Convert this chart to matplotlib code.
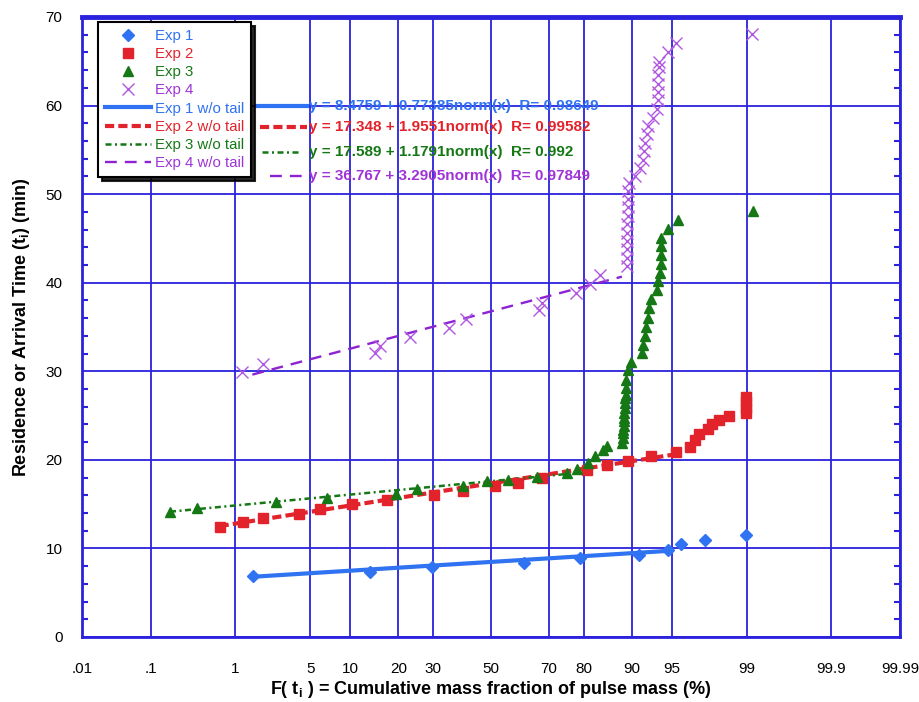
import math
import numpy as np
import matplotlib
matplotlib.use("Agg")
import matplotlib.pyplot as plt
from matplotlib.lines import Line2D

plt.rcParams['font.family'] = ['Liberation Sans', 'DejaVu Sans']

# ---------------- data (F in %, t in min) ----------------
exp1_F = [1.52, 13.6, 29.6, 61.8, 79.2, 91.1, 94.6, 95.8, 97.4, 98.98]
exp1_t = [6.9, 7.3, 7.9, 8.4, 8.9, 9.3, 9.84, 10.5, 10.9, 11.46]

exp2_F = [0.68, 1.22, 1.92, 4.07, 6.0, 10.3, 17.2, 30.2, 39.8, 51.4, 59.6, 68.0,
          80.8, 85.5, 89.4, 92.7, 95.4, 96.5, 96.8, 97.1, 97.56, 97.78, 98.08,
          98.46, 98.98, 98.98, 98.98, 98.98]
exp2_t = [12.44, 12.93, 13.42, 13.9, 14.44, 14.96, 15.45, 15.98, 16.45, 17.0,
          17.39, 17.95, 18.8, 19.37, 19.83, 20.47, 20.85, 21.45, 22.2, 22.9,
          23.5, 24.0, 24.5, 25.0, 25.3, 25.9, 26.5, 27.1]

exp3_F = [0.176, 0.38, 2.52, 6.84, 19.3, 24.97, 40.0, 48.4, 56.3, 66.3, 75.4,
          78.2, 81.2, 82.8, 84.5, 85.5,
          88.4, 88.45, 88.5, 88.55, 88.6, 88.65, 88.7, 88.75, 88.8, 88.85,
          88.9, 88.95, 89.0, 89.1, 89.4, 89.8,
          91.47, 91.7, 91.92, 92.06, 92.36, 92.5, 92.72, 93.47, 93.59, 93.77,
          93.85, 93.85, 93.85, 93.85, 94.65, 95.57, 99.13]
exp3_t = [14.1, 14.55, 15.2, 15.68, 16.17, 16.7, 17.07, 17.57, 17.68, 18.07,
          18.52, 18.97, 19.65, 20.47, 21.15, 21.6,
          21.9, 22.5, 23.05, 23.4, 23.8, 24.35, 24.75, 25.3, 25.9, 26.4,
          27.0, 27.35, 28.1, 29.06, 30.2, 31.1,
          32.07, 33.0, 34.0, 35.0, 36.0, 37.1, 38.2, 39.2, 40.2, 41.1,
          42.1, 43.1, 44.1, 45.1, 46.1, 47.1, 48.1]

exp4_F = [1.19, 1.92, 14.6, 15.7, 23.1, 35.2, 41.0, 67.0, 67.7, 78.0, 81.6, 83.9,
          89.2, 89.2, 89.2, 89.2, 89.25, 89.25, 89.3, 89.3, 89.35, 89.4, 89.6,
          90.47, 91.23, 91.7, 91.79, 91.92, 92.14, 92.36, 93.0, 93.4,
          93.5, 93.55, 93.6, 93.6, 93.65, 93.7, 94.6, 95.4, 99.12]
exp4_t = [29.93, 30.87, 32.08, 32.83, 33.9, 34.9, 35.85, 36.9, 37.7, 38.87, 39.9, 40.9,
          41.9, 42.8, 43.8, 44.7, 45.6, 46.6, 47.5, 48.5, 49.4, 50.4, 51.3,
          52.06, 53.0, 53.9, 54.9, 55.8, 56.8, 57.7, 58.6, 59.6,
          60.6, 61.5, 62.4, 63.4, 64.3, 64.9, 66.0, 67.1, 68.07]

# fits without tail: y = a + b*norm(x)
fit_a = [8.4759, 17.348, 17.589, 36.767]
fit_b = [0.77385, 1.9551, 1.1791, 3.2905]
fit_R = ['0.98649', '0.99582', '0.992', '0.97849']
fit_start = [1.6, 0.68, 0.176, 1.5]
fit_end = [94.6, 95.4, 78.2, 88.3]

series_names = ['Exp 1', 'Exp 2', 'Exp 3', 'Exp 4']
fit_names = ['Exp 1 w/o tail', 'Exp 2 w/o tail', 'Exp 3 w/o tail', 'Exp 4 w/o tail']

x_ticks = [0.01, 0.1, 1, 5, 10, 20, 30, 50, 70, 80, 90, 95, 99, 99.9, 99.99]
x_ticklabels = ['.01', '.1', '1', '5', '10', '20', '30', '50', '70', '80', '90',
                '95', '99', '99.9', '99.99']
y_ticks = [0, 10, 20, 30, 40, 50, 60, 70]

# ---------------- probability scale ----------------
_a = [-3.969683028665376e+01, 2.209460984245205e+02, -2.759285104469687e+02,
      1.383577518672690e+02, -3.066479806614716e+01, 2.506628277459239e+00]
_b = [-5.447609879822406e+01, 1.615858368580409e+02, -1.556989798598866e+02,
      6.680131188771972e+01, -1.328068155288572e+01]
_c = [-7.784894002430293e-03, -3.223964580411365e-01, -2.400758277161838e+00,
      -2.549671010114524e+00, 4.374664141464968e+00, 2.938163982698783e+00]
_d = [7.784695709041462e-03, 3.224671290700398e-01, 2.445134137142996e+00,
      3.754408661907416e+00]


def _ppf(p):
    p = np.clip(np.asarray(p, dtype=float), 1e-12, 1 - 1e-12)
    out = np.empty_like(p)
    plow = 0.02425
    lo = p < plow
    hi = p > 1 - plow
    mid = ~(lo | hi)
    q = np.sqrt(-2 * np.log(p[lo]))
    out[lo] = (((((_c[0]*q+_c[1])*q+_c[2])*q+_c[3])*q+_c[4])*q+_c[5]) / \
        ((((_d[0]*q+_d[1])*q+_d[2])*q+_d[3])*q+1)
    q = np.sqrt(-2 * np.log(1 - p[hi]))
    out[hi] = -(((((_c[0]*q+_c[1])*q+_c[2])*q+_c[3])*q+_c[4])*q+_c[5]) / \
        ((((_d[0]*q+_d[1])*q+_d[2])*q+_d[3])*q+1)
    q = p[mid] - 0.5
    r = q * q
    out[mid] = (((((_a[0]*r+_a[1])*r+_a[2])*r+_a[3])*r+_a[4])*r+_a[5])*q / \
        (((((_b[0]*r+_b[1])*r+_b[2])*r+_b[3])*r+_b[4])*r+1)
    return out


_erf = np.vectorize(math.erf)


def fwd(pct):
    return _ppf(np.asarray(pct, dtype=float) / 100.0)


def inv(z):
    z = np.asarray(z, dtype=float)
    return 100.0 * 0.5 * (1 + _erf(z / math.sqrt(2)))


# ---------------- styles ----------------
c_blue = '#2f72f2'
c_red = '#e2232b'
c_green = '#157815'
c_purple_pt = '#b257e2'
c_purple = '#8c22d2'
c_purple_txt = '#9f33d8'
grid_c = '#2a22dc'

fig = plt.figure(figsize=(9.19, 7.02), dpi=100)
ax = fig.add_axes([82/919, 1-637/702, 818/919, 620/702])
ax.set_xscale('function', functions=(fwd, inv))
ax.set_xlim(0.01, 99.99)
ax.set_ylim(0, 70)

# markers
h1, = ax.plot(exp1_F, exp1_t, ls='none', marker='D', ms=6, color=c_blue, zorder=4)
h2, = ax.plot(exp2_F, exp2_t, ls='none', marker='s', ms=6.8, color=c_red, zorder=4)
h3, = ax.plot(exp3_F, exp3_t, ls='none', marker='^', ms=7, color=c_green, zorder=4)
h4, = ax.plot(exp4_F, exp4_t, ls='none', marker='x', ms=9, mew=1.0, color=c_purple_pt, zorder=4)

fit_styles = [
    dict(color=c_blue, lw=3.0, ls='-'),
    dict(color=c_red, lw=3.0, dashes=(2.2, 1.0)),
    dict(color=c_green, lw=1.8, dashes=(2.4, 1.4, 0.8, 1.4)),
    dict(color=c_purple, lw=1.7, dashes=(5.0, 3.4)),
]
fit_handles = []
for a, b, s, e, st in zip(fit_a, fit_b, fit_start, fit_end, fit_styles):
    xs = np.array([s, e])
    ys = a + b * fwd(xs)
    h, = ax.plot(xs, ys, zorder=3, **st)
    fit_handles.append(h)

# axes styling
ax.set_xticks(x_ticks)
ax.set_xticklabels(x_ticklabels)
ax.xaxis.set_minor_locator(matplotlib.ticker.NullLocator())
ax.set_yticks(y_ticks)
ax.set_yticks(np.arange(0, 71, 2), minor=True)
ax.grid(True, which='major', color=grid_c, lw=1.3)
ax.set_axisbelow(True)
ax.tick_params(axis='x', which='major', length=0, pad=18, labelsize=11)
ax.tick_params(axis='y', which='major', length=0, pad=14, labelsize=11)
ax.tick_params(axis='y', which='minor', direction='in', length=4, width=1.5,
               color=grid_c, left=True, right=True)
for side in ['left', 'right', 'bottom']:
    ax.spines[side].set_color(grid_c)
    ax.spines[side].set_linewidth(2)
ax.spines['top'].set_color(grid_c)
ax.spines['top'].set_linewidth(3.5)

ax.set_xlabel(r'F( t$_\mathregular{i}$ ) = Cumulative mass fraction of pulse mass (%)',
              fontsize=13, fontweight='bold', labelpad=2)
ax.set_ylabel(r'Residence or Arrival Time (t$_\mathregular{i}$) (min)',
              fontsize=13, fontweight='bold', labelpad=10)

# legend
handles = [h1, h2, h3, h4] + fit_handles
labels = series_names + fit_names
leg = ax.legend(handles, labels, loc='upper left', bbox_to_anchor=(16/818, 615/620),
                borderaxespad=0, fontsize=10.8, handlelength=3.1, handletextpad=0.25,
                labelspacing=0.28, borderpad=0.45, fancybox=False, framealpha=1,
                edgecolor='black', numpoints=1,
                labelcolor=[c_blue, c_red, c_green, c_purple_txt,
                            c_blue, c_red, c_green, c_purple_txt],
                shadow={'ox': 3, 'oy': -3, 'color': 'black', 'alpha': 0.85})
leg.get_frame().set_linewidth(1.5)
leg.set_zorder(10)

# equation labels
eq_y = [0.8569, 0.8221, 0.7827, 0.7440]
eq_x0 = [0.2136, 0.2176, 0.2200, 0.2298]
eq_x1 = [0.2747, 0.2747, 0.2641, 0.2689]
eq_colors = [c_blue, c_red, c_green, c_purple_txt]
for a, b, R, y, x0, x1, st, col in zip(fit_a, fit_b, fit_R, eq_y, eq_x0, eq_x1,
                                       fit_styles, eq_colors):
    ax.add_line(Line2D([x0, x1], [y, y], transform=ax.transAxes, zorder=5, **st))
    ax.text(0.2780, y, f'y = {a} + {b}norm(x)  R= {R}', transform=ax.transAxes,
            color=col, fontsize=11.0, fontweight='bold', va='center', ha='left',
            zorder=6)

fig.savefig('out.png', dpi=100)
